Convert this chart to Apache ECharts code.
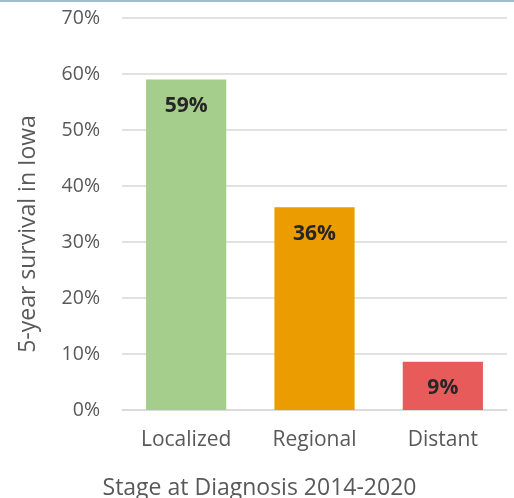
<!DOCTYPE html>
<html><head><meta charset="utf-8">
<script src="https://cdn.jsdelivr.net/npm/echarts@6/dist/echarts.min.js"></script>
<style>html,body{margin:0;padding:0;background:#fff}#c{width:514px;height:498px}</style>
</head><body><div id="c"></div>
<script>
const categories = ['Localized', 'Regional', 'Distant'];
const survival = [59.0, 36.2, 8.6];
const barColors = ['#a5cd8b', '#eb9c00', '#e85b5b'];
const yTicks = [0, 10, 20, 30, 40, 50, 60, 70];

const font = '"Open Sans", sans-serif';
const chart = echarts.init(document.getElementById('c'), null, {renderer: 'canvas'});
chart.setOption({
  animation: false,
  graphic: [{type: 'rect', shape: {x: 0, y: 0, width: 514, height: 2}, style: {fill: '#9ec0ca'}}],
  grid: {left: 122, right: 7, top: 18, bottom: 88, outerBoundsMode: 'none', containLabel: false},
  xAxis: {
    type: 'category', data: categories,
    axisLine: {lineStyle: {color: '#d9d9d9', width: 1.5}},
    axisTick: {show: false},
    axisLabel: {color: '#595959', fontFamily: font, fontSize: 21, margin: 20},
    name: 'Stage at Diagnosis 2014-2020', nameLocation: 'middle', nameGap: 67,
    nameTextStyle: {color: '#595959', fontFamily: font, fontSize: 23, padding: [0, 0, 0, -110]}
  },
  yAxis: {
    type: 'value', min: yTicks[0], max: yTicks[yTicks.length - 1], interval: 10,
    axisLine: {show: false}, axisTick: {show: false},
    splitLine: {lineStyle: {color: '#d9d9d9', width: 1.5}},
    axisLabel: {color: '#595959', fontFamily: font, fontSize: 19.5, margin: 22, formatter: v => v + '%'},
    name: '5-year survival in Iowa', nameLocation: 'middle', nameGap: 82,
    nameTextStyle: {color: '#595959', fontFamily: font, fontSize: 23, padding: [0, 40, 0, 0]}
  },
  series: [{
    type: 'bar', barWidth: '62.5%',
    data: survival.map((v, i) => ({value: v, itemStyle: {color: barColors[i]}})),
    label: {
      show: true, position: 'insideTop', distance: 16,
      color: '#262626', fontFamily: font, fontWeight: 'bold', fontSize: 21,
      formatter: p => Math.round(p.value) + '%'
    }
  }]
});
</script></body></html>
